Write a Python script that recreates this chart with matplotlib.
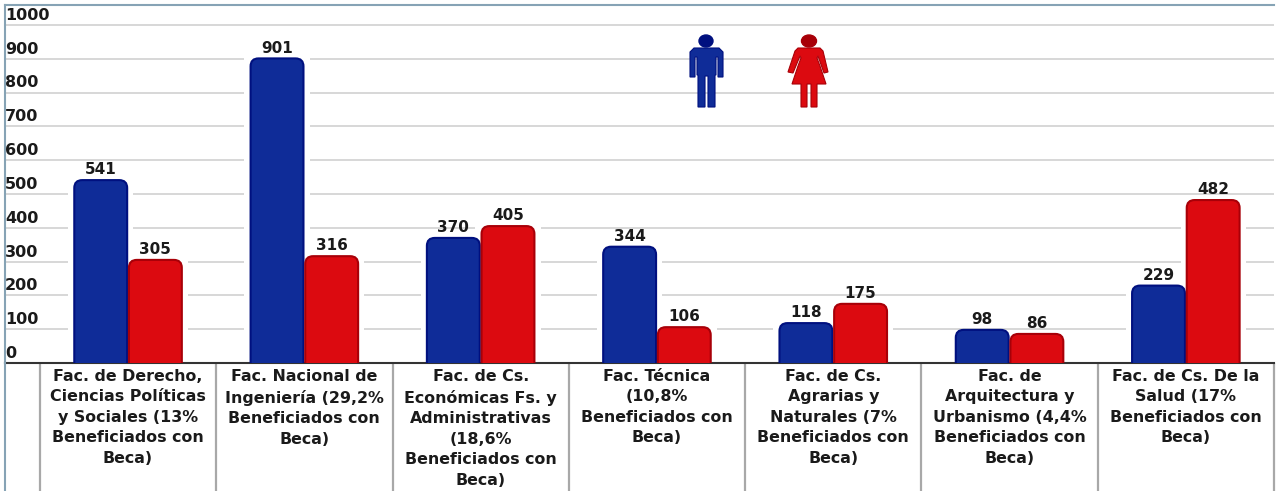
import matplotlib.pyplot as plt
from matplotlib.lines import Line2D
from matplotlib.patches import Ellipse, FancyBboxPatch, Polygon
from matplotlib.transforms import ScaledTranslation
import numpy as np

# Datos
facultades = [
	"Fac. de Derecho,\nCiencias Políticas\ny Sociales (13%\nBeneficiados con\nBeca)",
	"Fac. Nacional de\nIngeniería (29,2%\nBeneficiados con\nBeca)",
	"Fac. de Cs.\nEconómicas Fs. y\nAdministrativas\n(18,6%\nBeneficiados con\nBeca)",
	"Fac. Técnica\n(10,8%\nBeneficiados con\nBeca)",
	"Fac. de Cs.\nAgrarias y\nNaturales (7%\nBeneficiados con\nBeca)",
	"Fac. de\nArquitectura y\nUrbanismo (4,4%\nBeneficiados con\nBeca)",
	"Fac. de Cs. De la\nSalud (17%\nBeneficiados con\nBeca)",
]
hombres = [541, 901, 370, 344, 118, 98, 229]
mujeres = [305, 316, 405, 106, 175, 86, 482]
y_ticks = [0, 100, 200, 300, 400, 500, 600, 700, 800, 900, 1000]

AZUL = "#0f2c98"
AZUL_BORDE = "#00107f"
ROJO = "#dc0a10"
ROJO_BORDE = "#a80008"
GRIS = "#a8a8a8"
MARCO = "#86a3b5"
TEXTO = "#1a1a1a"

W, H = 1276, 491
fig = plt.figure(figsize=(W / 100, H / 100), dpi=100, facecolor="white")
ax = fig.add_axes([5 / W, (H - 363) / H, 1269 / W, 358 / H])

x = np.arange(len(facultades))
ancho = 0.3
sep = 0.005

# Hueco blanco alrededor de las barras, corta las líneas de la grilla
ax.bar(x - ancho / 2 - sep, hombres, ancho + 0.07, color="white", zorder=2)
ax.bar(x + ancho / 2 + sep, mujeres, ancho + 0.07, color="white", zorder=2)


# Barra con esquinas redondeadas
def barra(xc, valor, color, borde):
	caja = FancyBboxPatch(
		(xc - ancho / 2, -40), ancho, valor + 40,
		boxstyle="round,pad=0,rounding_size=0.045",
		mutation_aspect=517,
		facecolor=color, edgecolor=borde, linewidth=1.5, zorder=3,
	)
	ax.add_patch(caja)


for i in x:
	barra(i - ancho / 2 - sep, hombres[i], AZUL, AZUL_BORDE)
	barra(i + ancho / 2 + sep, mujeres[i], ROJO, ROJO_BORDE)
	ax.annotate(str(hombres[i]), (i - ancho / 2 - sep, hombres[i]), xytext=(0, 2),
		textcoords="offset points", ha="center", va="bottom",
		fontsize=11, fontweight="bold", color=TEXTO, zorder=4)
	ax.annotate(str(mujeres[i]), (i + ancho / 2 + sep, mujeres[i]), xytext=(0, 2),
		textcoords="offset points", ha="center", va="bottom",
		fontsize=11, fontweight="bold", color=TEXTO, zorder=4)

ax.set_xlim(-0.698, 6.5)
ax.set_ylim(0, 1059)

# Eje Y: etiquetas a la izquierda, encima de cada línea
ax.set_yticks(y_ticks)
ax.tick_params(axis="y", length=0, pad=0)
desplazar = ScaledTranslation(0, 1.5 / 72, fig.dpi_scale_trans)
for etiqueta in ax.get_yticklabels():
	etiqueta.set_ha("left")
	etiqueta.set_va("bottom")
	etiqueta.set_fontsize(11.5)
	etiqueta.set_fontweight("bold")
	etiqueta.set_color(TEXTO)
	etiqueta.set_transform(etiqueta.get_transform() + desplazar)
ax.grid(axis="y", color="#d4d4d4", linewidth=1.3, zorder=1)
ax.set_axisbelow(True)

# Eje X como tabla de celdas
ax.set_xticks(x, labels=facultades)
ax.tick_params(axis="x", which="major", length=0, pad=4)
for etiqueta in ax.get_xticklabels():
	etiqueta.set_fontsize(11.4)
	etiqueta.set_fontweight("bold")
	etiqueta.set_color(TEXTO)
	etiqueta.set_linespacing(1.46)
ax.set_xticks(np.arange(-0.5, 7, 1), minor=True)
ax.tick_params(axis="x", which="minor", length=95, width=1.6, color=GRIS)

ax.spines["right"].set_visible(False)
ax.spines["bottom"].set_color("#333333")
ax.spines["bottom"].set_linewidth(1.5)
ax.spines["top"].set_color(MARCO)
ax.spines["top"].set_linewidth(1.5)
ax.spines["left"].set_color(MARCO)
ax.spines["left"].set_linewidth(1.5)
fig.add_artist(Line2D([5 / W, 5 / W], [0, (H - 363) / H], color=MARCO, linewidth=1.5))

# Iconos, en pixeles de la imagen
iconos = fig.add_axes([0, 0, 1, 1], facecolor="none")
iconos.set_xlim(0, W)
iconos.set_ylim(H, 0)
iconos.axis("off")

iconos.add_patch(Ellipse((706, 41), 14, 12, color=AZUL_BORDE))
hombre = [
	(694, 48), (719, 48), (723, 52), (723, 77), (718, 77), (718, 57), (716, 57), (716, 75),
	(715, 75), (715, 107), (708, 107), (708, 76), (705, 76), (705, 107), (698, 107),
	(698, 75), (697, 75), (697, 57), (695, 57), (695, 77), (690, 77), (690, 52),
]
iconos.add_patch(Polygon(hombre, closed=True, facecolor=AZUL, edgecolor=AZUL_BORDE, linewidth=0.8))

iconos.add_patch(Ellipse((809, 41), 15, 12, color=ROJO_BORDE))
mujer = [
	(798, 48), (820, 48), (823, 51), (828, 72), (824, 73), (818, 56), (817, 58), (820, 66),
	(826, 84), (817, 84), (817, 107), (811, 107), (811, 84), (807, 84), (807, 107),
	(801, 107), (801, 84), (792, 84), (798, 66), (801, 58), (800, 56), (793, 73), (788, 72), (795, 51),
]
iconos.add_patch(Polygon(mujer, closed=True, facecolor=ROJO, edgecolor=ROJO_BORDE, linewidth=0.8))

fig.savefig("out.png", dpi=100)
